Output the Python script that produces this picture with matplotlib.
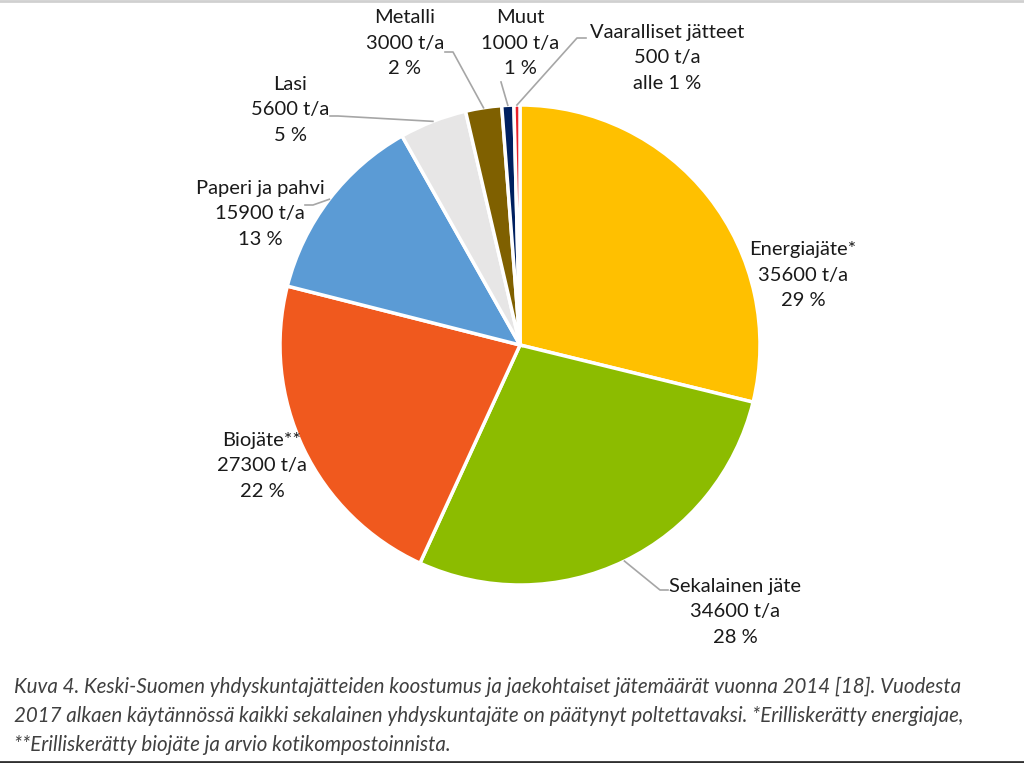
import matplotlib
matplotlib.use("Agg")
import matplotlib.pyplot as plt
from matplotlib.lines import Line2D
import numpy as np

categories = ["Energiajäte*", "Sekalainen jäte", "Biojäte**", "Paperi ja pahvi",
              "Lasi", "Metalli", "Muut", "Vaaralliset jätteet"]
values = [35600, 34600, 27300, 15900, 5600, 3000, 1000, 500]
pct_labels = ["29 %", "28 %", "22 %", "13 %", "5 %", "2 %", "1 %", "alle 1 %"]
colors = ["#FFC000", "#8CBC00", "#F0591E", "#5B9BD5", "#E7E6E6", "#7F6000", "#002060", "#E8202A"]

caption = ("Kuva 4. Keski-Suomen yhdyskuntajätteiden koostumus ja jaekohtaiset jätemäärät vuonna 2014 [18]. Vuodesta\n"
           "2017 alkaen käytännössä kaikki sekalainen yhdyskuntajäte on päätynyt poltettavaksi. *Erilliskerätty energiajae,\n"
           "**Erilliskerätty biojäte ja arvio kotikompostoinnista.")

W, H = 1024, 763
fig = plt.figure(figsize=(W / 100, H / 100), dpi=100)
fig.patch.set_facecolor("white")

cx, cy, R = 520, 345, 240
ax = fig.add_axes([(cx - R) / W, 1 - (cy + R) / H, 2 * R / W, 2 * R / H])

wedges, _ = ax.pie(values, colors=colors, startangle=90, counterclock=False, radius=1,
                   wedgeprops=dict(edgecolor="white", linewidth=2.5))
ax.set_aspect("auto")
ax.set_xlim(-1, 1)
ax.set_ylim(-1, 1)
ax.axis("off")

def d(px, py):
    return ((px - cx) / R, (cy - py) / R)

# label centre (pixels) and leader polyline points (pixels), None = no leader
label_pos = [(803, 275), (735, 612), (262, 466), (260, 214), (290, 110), (405, 43), (520, 43), (667, 58)]
leaders = [None,
           [(668, 590), (660, 590)],
           None,
           [(305, 205), (313, 205)],
           [(330, 116), (338, 116)],
           [(445, 52), (453, 52)],
           [(501, 82)],
           [(586, 38), (577, 38)]]

font = "Lato"
for i, w in enumerate(wedges):
    txt = f"{categories[i]}\n{values[i]} t/a\n{pct_labels[i]}"
    x, y = d(*label_pos[i])
    ax.text(x, y, txt, ha="center", va="center", fontsize=14.5, family=font,
            color="#1a1a1a", linespacing=1.62, clip_on=False)
    if leaders[i] is not None:
        mid = np.deg2rad((w.theta1 + w.theta2) / 2)
        ex, ey = np.cos(mid), np.sin(mid)
        pts = [d(*p) for p in leaders[i]] + [(ex, ey)]
        xs = [p[0] for p in pts]
        ys = [p[1] for p in pts]
        ax.add_line(Line2D(xs, ys, color="#A6A6A6", lw=1.2, clip_on=False))

fig.text(14 / W, 1 - 716 / H, caption, ha="left", va="center", fontsize=14.8, family=font,
         style="italic", color="#404040", linespacing=1.58)

fig.add_artist(Line2D([0, 1], [1 - 1 / H, 1 - 1 / H], color="#D0D0D0", lw=2, transform=fig.transFigure))
fig.add_artist(Line2D([0, 1], [1.5 / H, 1.5 / H], color="#303030", lw=2, transform=fig.transFigure))

fig.savefig("out.png", dpi=100, facecolor="white")
